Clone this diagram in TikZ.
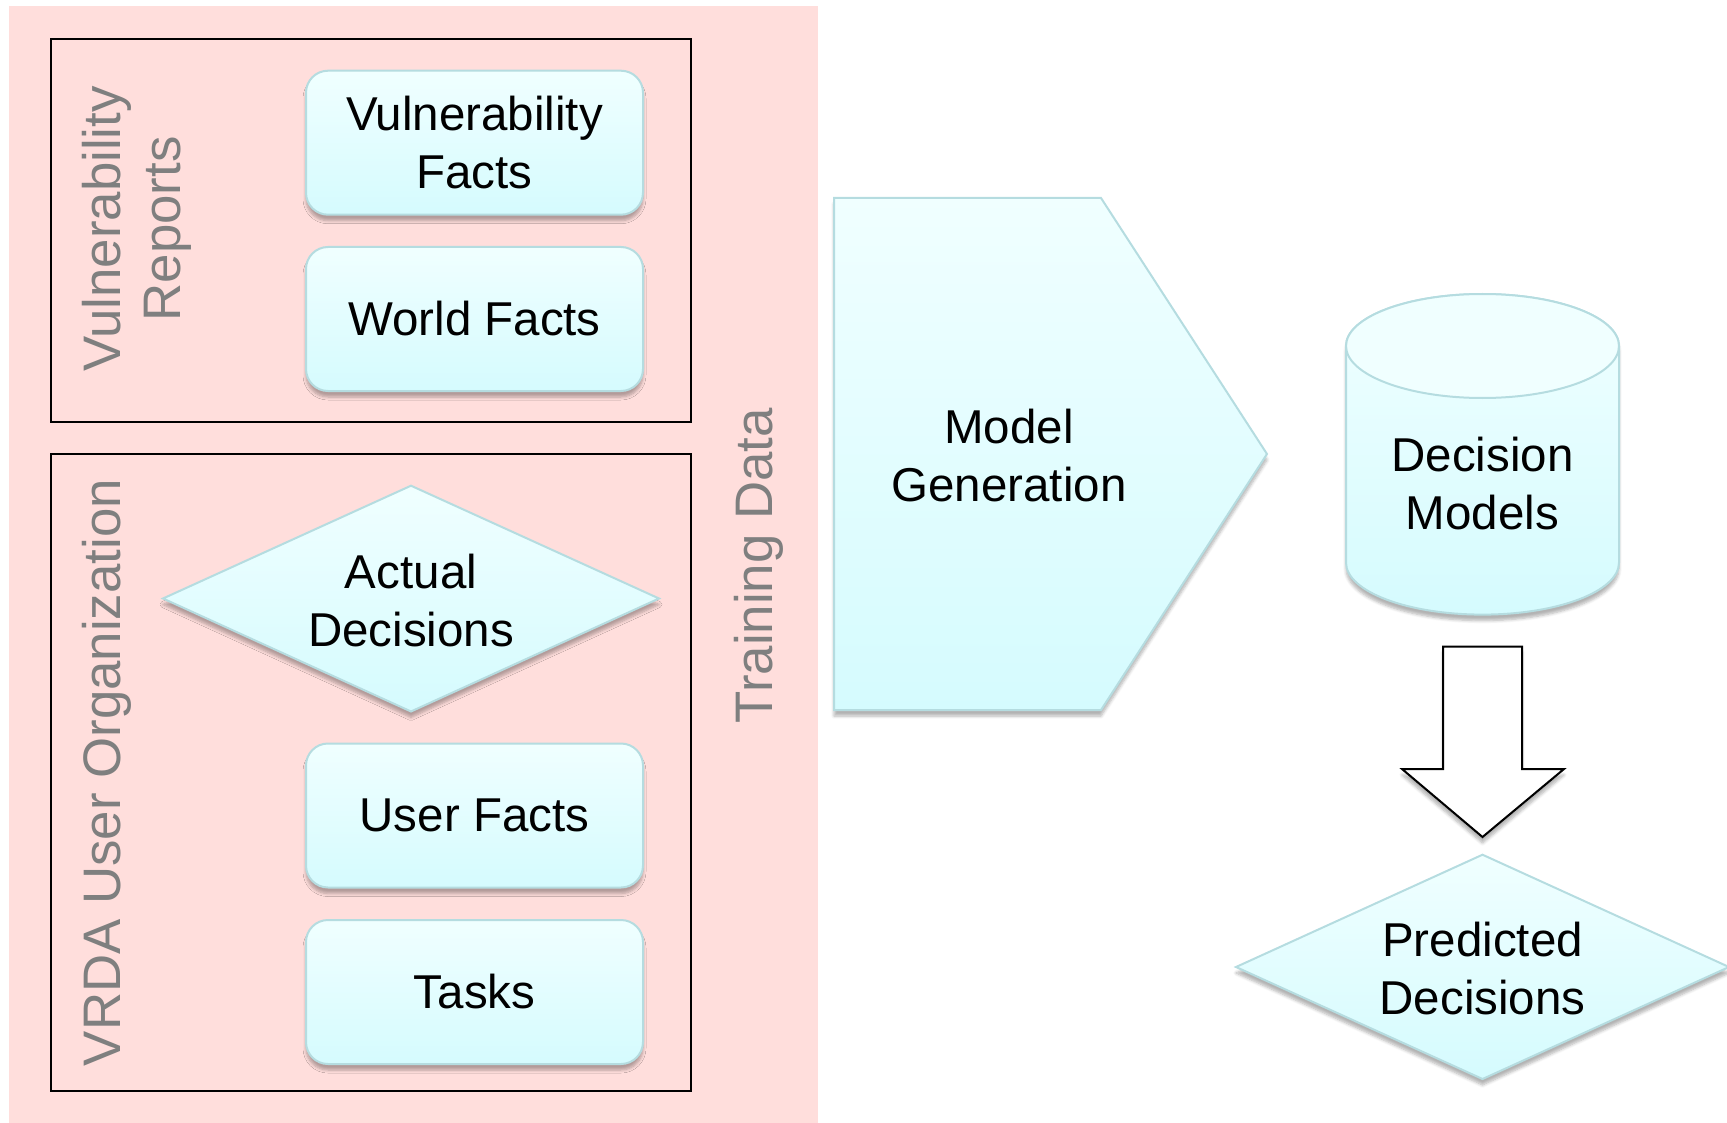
\documentclass[tikz,border=0pt]{standalone}
\usepackage{fontspec}
\setmainfont{Liberation Sans}
\usetikzlibrary{shadows.blur}

\definecolor{bgpink}{HTML}{FFDEDC}
\definecolor{cyantop}{HTML}{F0FFFF}
\definecolor{cyanbot}{HTML}{D5FBFE}
\definecolor{cyanedge}{HTML}{B5DCE0}
\definecolor{labelgray}{HTML}{7F7F7F}

\newcommand\bodyfont{\fontsize{47.5}{58}\selectfont}
\newcommand\labelfont{\fontsize{52.8}{60.5}\selectfont}

\tikzset{
  softshadow/.style={blur shadow={shadow xshift=0pt, shadow yshift=-6pt,
      shadow blur radius=3pt, shadow opacity=30, shadow blur steps=6}},
  cyanfill/.style={top color=cyantop, bottom color=cyanbot, draw=cyanedge, line width=2pt},
  factbox/.style={cyanfill, softshadow, rounded corners=22pt, minimum width=337pt,
      minimum height=144pt, inner sep=0pt, align=center, font=\bodyfont},
  groupbox/.style={draw=black, line width=2pt, inner sep=0pt},
  sidelabel/.style={rotate=90, text=labelgray, align=center, font=\labelfont, inner sep=0pt},
  bodytext/.style={align=center, font=\bodyfont, inner sep=0pt},
  blockarrow/.style={fill=white, draw=black, line width=2pt, line join=miter, softshadow},
}

\begin{document}
\begin{tikzpicture}[x=1pt, y=-1pt]
  \useasboundingbox (0,0) rectangle (1727,1123);

  % training data panel
  \fill[bgpink] (9,6) rectangle (818,1123);

  % group frames
  \node[groupbox, minimum width=640pt, minimum height=383pt] (vrframe) at (370.6,230.1) {};
  \node[groupbox, minimum width=640pt, minimum height=637pt] (orgframe) at (370.6,772.1) {};

  % side labels
  \node[sidelabel] (vrlabel) at (137,229) {Vulnerability\\Reports};
  \node[sidelabel] (orglabel) at (107,772.6) {VRDA User Organization};
  \node[sidelabel] (tdlabel) at (759,565.6) {Training Data};

  % fact boxes
  \node[factbox] (vf) at (474.5,142.7) {Vulnerability\\Facts};
  \node[factbox] (wf) at (474.5,319) {World Facts};
  \node[factbox] (uf) at (474.5,815.5) {User Facts};
  \node[factbox] (tk) at (474.5,992) {Tasks};

  % actual decisions
  \path[cyanfill, softshadow] (163,598.5) -- (411,485.7) -- (659,598.5) -- (411,711.5) -- cycle;
  \node[bodytext] (ad) at (411,601) {Actual\\Decisions};

  % model generation chevron
  \path[cyanfill, softshadow] (834,198) -- (1101,198) -- (1267,454) -- (1101,710) -- (834,710) -- cycle;
  \node[bodytext] (mg) at (1009,456) {Model\\Generation};

  % decision models cylinder
  \path[cyanfill, softshadow] (1346,346) -- (1346,562.6)
     arc[start angle=180, end angle=0, x radius=136.5, y radius=52]
     -- (1619,346)
     arc[start angle=0, end angle=-180, x radius=136.5, y radius=52] -- cycle;
  \draw[fill=cyantop, draw=cyanedge, line width=2pt] (1482.5,346) ellipse [x radius=136.5, y radius=52];
  \node[bodytext] (dm) at (1482.5,484) {Decision\\Models};

  % block arrow
  \path[blockarrow] (1443,646.5) -- (1522,646.5) -- (1522,769) -- (1564,769)
     -- (1482.5,837) -- (1402,769) -- (1443,769) -- cycle;

  % predicted decisions
  \path[cyanfill, softshadow] (1236,967) -- (1482.5,854.7) -- (1729,967) -- (1482.5,1079) -- cycle;
  \node[bodytext] (pd) at (1482.5,969) {Predicted\\Decisions};
\end{tikzpicture}
\end{document}
